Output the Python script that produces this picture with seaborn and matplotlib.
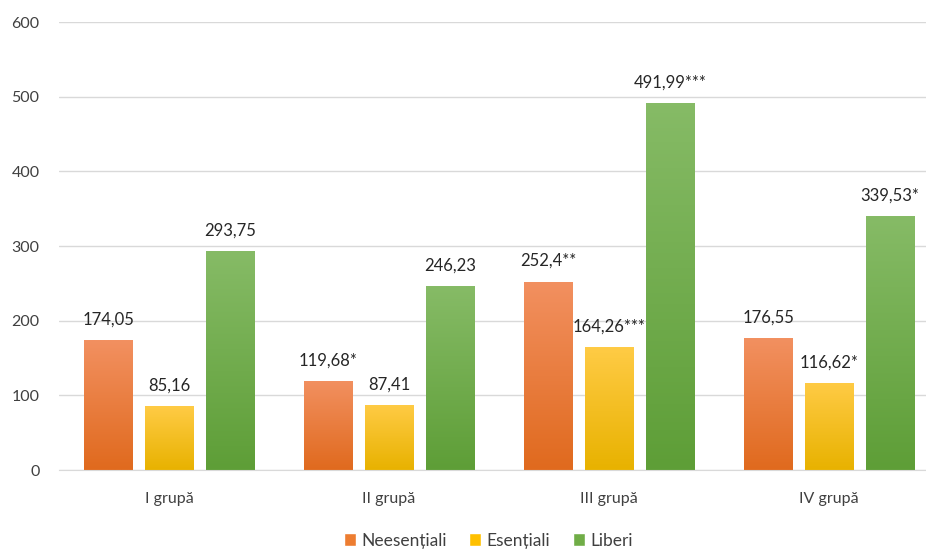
import numpy as np
import pandas as pd
import matplotlib
matplotlib.use("Agg")
import matplotlib.pyplot as plt
from matplotlib.colors import LinearSegmentedColormap
from matplotlib.patches import Patch
import seaborn as sns

groups = ["I grupă", "II grupă", "III grupă", "IV grupă"]
series = ["Neesențiali", "Esențiali", "Liberi"]
neesentiali = [174.05, 119.68, 252.4, 176.55]
esentiali = [85.16, 87.41, 164.26, 116.62]
liberi = [293.75, 246.23, 491.99, 339.53]
labels_nees = ["174,05", "119,68*", "252,4**", "176,55"]
labels_es = ["85,16", "87,41", "164,26***", "116,62*"]
labels_lib = ["293,75", "246,23", "491,99***", "339,53*"]

df = pd.DataFrame({
    "grupa": groups * 3,
    "serie": np.repeat(series, len(groups)),
    "valoare": neesentiali + esentiali + liberi,
})

base_colors = {"Neesențiali": "#ED7D31", "Esențiali": "#FFC000", "Liberi": "#70AD47"}
# top / bottom colours of the gradient fill
grad = {
    "Neesențiali": ("#F29060", "#E06A1E"),
    "Esențiali": ("#FFCB45", "#E8B200"),
    "Liberi": ("#86BB66", "#5E9E37"),
}

sns.set_style("white")
plt.rcParams["font.family"] = ["Lato", "DejaVu Sans"]

fig = plt.figure(figsize=(9.26, 5.52), dpi=100)
ax = fig.add_axes([59 / 926, 82 / 552, 867 / 926, 448 / 552])

sns.barplot(data=df, x="grupa", y="valoare", hue="serie", palette=base_colors,
            width=0.83, gap=0.2, ax=ax, legend=False, edgecolor="none")

ax.set_ylim(0, 600)
ax.set_xlim(-0.5, 3.5 - 13 / 220)

# gradient fill on each bar
all_labels = [labels_nees, labels_es, labels_lib]
for cont, s, labs in zip(ax.containers, series, all_labels):
    cmap = LinearSegmentedColormap.from_list(s, [grad[s][1], grad[s][0]])
    for bar, lab in zip(cont, labs):
        x0, y0 = bar.get_x(), bar.get_y()
        w, h = bar.get_width(), bar.get_height()
        bar.set_facecolor("none")
        img = ax.imshow(np.linspace(0, 1, 100).reshape(-1, 1), cmap=cmap, aspect="auto",
                        origin="lower", extent=[x0, x0 + w, y0, y0 + h], zorder=2)
        img.set_clip_path(bar)
        ax.annotate(lab, (x0 + w / 2, h), xytext=(0, 9), textcoords="offset points",
                    ha="center", va="bottom", fontsize=12, color="#262626")

ax.set_yticks(range(0, 601, 100))
ax.yaxis.grid(True, color="#D9D9D9", linewidth=1)
ax.set_axisbelow(True)
for sp in ["top", "right", "left"]:
    ax.spines[sp].set_visible(False)
ax.spines["bottom"].set_color("#D9D9D9")
ax.tick_params(axis="both", length=0, labelsize=11.5, colors="#404040")
ax.tick_params(axis="y", pad=14)
ax.tick_params(axis="x", pad=16)
ax.set_xlabel("")
ax.set_ylabel("")

handles = [Patch(facecolor=base_colors[s], label=s) for s in series]
fig.legend(handles=handles, loc="lower center", ncol=3, frameon=False,
           bbox_to_anchor=(0.527, -0.022), fontsize=12.5, handlelength=0.7,
           handleheight=0.7, handletextpad=0.3, columnspacing=1.3,
           labelcolor="#404040")

fig.savefig("out.png", dpi=100)
